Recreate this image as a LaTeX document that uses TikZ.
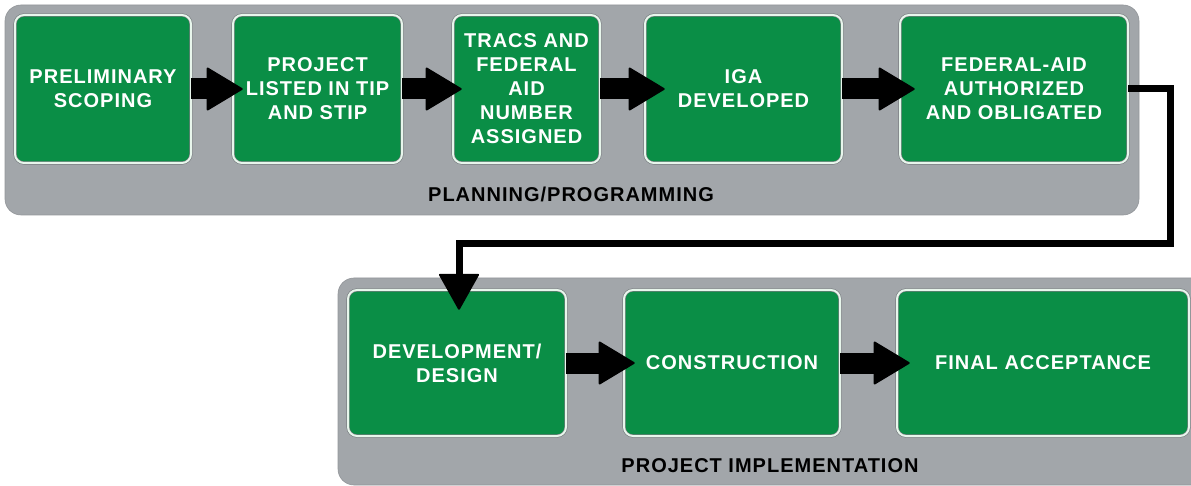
\documentclass[tikz,border=0pt]{standalone}
\usepackage{fontspec}
\setmainfont{Liberation Sans}
\newfontfamily\boxfont[LetterSpace=5]{Liberation Sans}
\usetikzlibrary{arrows.meta}
\definecolor{boxgreen}{RGB}{10,142,70}
\definecolor{panelgray}{RGB}{162,166,170}
\definecolor{boxrim}{RGB}{232,246,236}
\definecolor{rimshade}{RGB}{120,124,128}
\tikzset{
  stepbox/.style={draw=rimshade, double=boxrim, double distance=2pt, line width=0.6pt,
    fill=boxgreen, rounded corners=9pt, text=white, align=center, inner sep=0pt,
    minimum height=148pt,
    font=\boxfont\bfseries\fontsize{20}{24}\selectfont},
  panel/.style={fill=panelgray, draw=panelgray!90!black, line width=0.6pt, rounded corners=16pt},
  paneltitle/.style={text=black, font=\boxfont\bfseries\fontsize{20}{24}\selectfont, inner sep=0pt},
  flow/.style={line width=21pt, -{Triangle[length=37pt,width=44pt,line width=2pt,round]}},
  link/.style={line width=7pt, -{Triangle[length=37pt,width=41pt,line width=2pt,round]}}
}
\begin{document}
\begin{tikzpicture}[x=1pt,y=-1pt]
\useasboundingbox (0,0) rectangle (1191,486);
\clip (0,0) rectangle (1191,486);
% panels
\path[panel] (5,5) rectangle (1139,215);
\path[panel] (338,278) rectangle (1215,485);
\node[paneltitle] (t1) at (571,194) {PLANNING/PROGRAMMING};
\node[paneltitle] (t2) at (770,466) {PROJECT IMPLEMENTATION};
% boxes top row
\node[stepbox, minimum width=176pt] (b1) at (103,89) {PRELIMINARY\\SCOPING};
\node[stepbox, minimum width=169pt] (b2) at (317.5,89) {PROJECT\\LISTED IN TIP\\AND STIP};
\node[stepbox, minimum width=147pt] (b3) at (526.5,89) {TRACS AND\\FEDERAL\\AID\\NUMBER\\ASSIGNED};
\node[stepbox, minimum width=197pt] (b4) at (743.5,89) {IGA\\DEVELOPED};
\node[stepbox, minimum width=228pt] (b5) at (1014,89) {FEDERAL-AID\\AUTHORIZED\\AND OBLIGATED};
% bottom row
\node[stepbox, minimum width=218pt, minimum height=146pt] (b6) at (457,363) {DEVELOPMENT/\\DESIGN};
\node[stepbox, minimum width=216pt, minimum height=146pt] (b7) at (732,363) {CONSTRUCTION};
\node[stepbox, minimum width=292pt, minimum height=146pt] (b8) at (1043,363) {FINAL ACCEPTANCE};
% connectors
\draw[flow, shorten >=-10pt] (b1.east) -- (b2.west);
\draw[flow, shorten >=-9pt] (b2.east) -- (b3.west);
\draw[flow, shorten >=-20pt] (b3.east) -- (b4.west);
\draw[flow, shorten >=-15pt] (b4.east) -- (b5.west);
\draw[flow, shorten >=-11pt] (b6.east) -- (b7.west);
\draw[flow, shorten >=-13pt] (b7.east) -- (b8.west);
\coordinate (c1) at (1170,89);
\coordinate (c2) at (1170,244);
\coordinate (c3) at (459,244);
\draw[link, shorten >=-20pt] (b5.east) -- (c1) -- (c2) -- (c3) -- (c3 |- b6.north);
\end{tikzpicture}
\end{document}
